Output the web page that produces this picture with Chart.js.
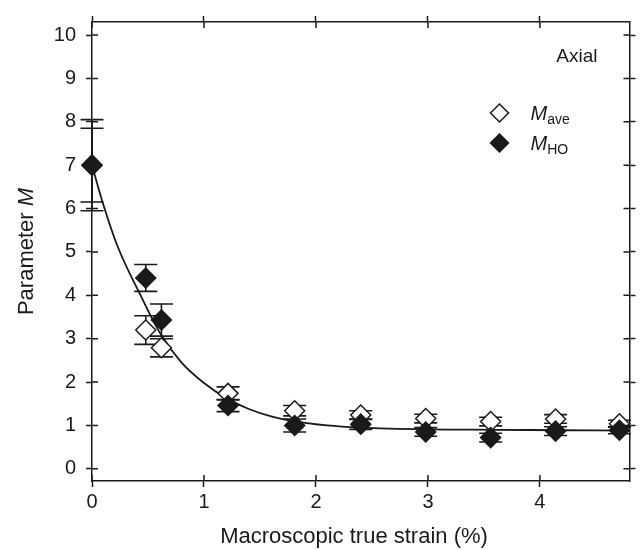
<!DOCTYPE html>
<html>
<head>
<meta charset="utf-8">
<script src="https://cdn.jsdelivr.net/npm/chart.js@4.4.0/dist/chart.umd.min.js"></script>
<style>
    body { margin: 0; background: #ffffff; }
    #wrap { width: 641px; height: 550px; }
</style>
</head>
<body>
<div id="wrap"><canvas id="strain-chart"></canvas></div>
<script>
// measured points (shared strain positions)
const strain = [0, 0.48, 0.62, 1.215, 1.81, 2.40, 2.98, 3.56, 4.14, 4.71];
const mAve = [7.0, 3.20, 2.79, 1.74, 1.34, 1.24, 1.16, 1.09, 1.15, 1.04];
const mAveErr = [0.85, 0.33, 0.21, 0.15, 0.12, 0.10, 0.10, 0.10, 0.10, 0.08];
const mHo = [7.0, 4.40, 3.43, 1.46, 1.00, 1.03, 0.85, 0.72, 0.87, 0.89];
const mHoErr = [1.05, 0.31, 0.37, 0.14, 0.15, 0.12, 0.10, 0.10, 0.10, 0.08];

// fitted curve
const fitStrain = [0, 0.1, 0.23, 0.43, 0.61, 0.8, 1.0, 1.2, 1.4, 1.6, 1.8, 2.1, 2.4, 3.0, 3.6, 4.2, 4.8];
const fitM = [7.0, 6.1, 5.12, 4.02, 3.12, 2.45, 1.98, 1.63, 1.38, 1.21, 1.10, 1.00, 0.95, 0.91, 0.90, 0.89, 0.88];

const xTicks = [0, 1, 2, 3, 4];
const yTicks = [0, 1, 2, 3, 4, 5, 6, 7, 8, 9, 10];

const FONT = '"Liberation Sans", Arial, Helvetica, sans-serif';
const INK = '#1a1a1a';
const TICK = 6;

const toPoints = (xs, ys) => xs.map((x, i) => ({ x, y: ys[i] }));
const fixTicks = (vals) => (scale) => { scale.ticks = vals.map(v => ({ value: v })); };

const errorBars = {
    id: 'errorBars',
    beforeDatasetsDraw(chart) {
        const { ctx } = chart;
        const y = chart.scales.y;
        ctx.save();
        ctx.strokeStyle = INK;
        ctx.lineWidth = 1.6;
        chart.data.datasets.forEach((ds, i) => {
            if (!ds.errors) return;
            const meta = chart.getDatasetMeta(i);
            meta.data.forEach((pt, j) => {
                const v = ds.data[j].y;
                const top = y.getPixelForValue(v + ds.errors[j]);
                const bot = y.getPixelForValue(v - ds.errors[j]);
                ctx.beginPath();
                ctx.moveTo(pt.x, top); ctx.lineTo(pt.x, bot);
                ctx.moveTo(pt.x - 11.5, top); ctx.lineTo(pt.x + 11.5, top);
                ctx.moveTo(pt.x - 11.5, bot); ctx.lineTo(pt.x + 11.5, bot);
                ctx.stroke();
            });
        });
        ctx.restore();
    }
};

const frameDecor = {
    id: 'frameDecor',
    afterDraw(chart) {
        const { ctx, chartArea: a, scales } = chart;
        ctx.save();
        ctx.strokeStyle = INK;
        ctx.lineWidth = 1.5;
        ctx.beginPath();
        // inner halves of the crossing ticks
        scales.x.ticks.forEach(t => {
            const px = scales.x.getPixelForValue(t.value);
            ctx.moveTo(px, a.bottom); ctx.lineTo(px, a.bottom - TICK);
            ctx.moveTo(px, a.top); ctx.lineTo(px, a.top + TICK);
        });
        scales.y.ticks.forEach(t => {
            const py = scales.y.getPixelForValue(t.value);
            ctx.moveTo(a.left, py); ctx.lineTo(a.left + TICK, py);
            ctx.moveTo(a.right, py); ctx.lineTo(a.right - TICK, py);
        });
        ctx.stroke();

        ctx.fillStyle = INK;
        ctx.textBaseline = 'middle';

        // x title
        ctx.font = '22px ' + FONT;
        ctx.textAlign = 'center';
        ctx.fillText('Macroscopic true strain (%)', 354, 537);

        // y title with italic M
        const plain = '22px ' + FONT, ital = 'italic 22px ' + FONT;
        ctx.font = plain;
        const w1 = ctx.measureText('Parameter ').width;
        ctx.font = ital;
        const w2 = ctx.measureText('M').width;
        ctx.translate(27, (a.top + a.bottom) / 2);
        ctx.rotate(-Math.PI / 2);
        ctx.textAlign = 'left';
        ctx.font = plain;
        ctx.fillText('Parameter ', -(w1 + w2) / 2, 0);
        ctx.font = ital;
        ctx.fillText('M', -(w1 + w2) / 2 + w1, 0);
        ctx.restore();

        // panel label and legend
        ctx.save();
        ctx.fillStyle = INK;
        ctx.textBaseline = 'alphabetic';
        ctx.font = '19px ' + FONT;
        ctx.textAlign = 'right';
        ctx.fillText('Axial', a.right - 32, a.top + 40);
        ctx.textAlign = 'left';
        const rows = [
            { ds: chart.data.datasets[1], sub: 'ave', y: a.top + 91 },
            { ds: chart.data.datasets[0], sub: 'HO', y: a.top + 121 }
        ];
        rows.forEach(r => {
            const cx = a.right - 130;
            ctx.fillStyle = r.ds.backgroundColor;
            ctx.strokeStyle = INK;
            ctx.lineWidth = 1.5;
            ctx.beginPath();
            ctx.moveTo(cx, r.y - 9);
            ctx.lineTo(cx + 9, r.y);
            ctx.lineTo(cx, r.y + 9);
            ctx.lineTo(cx - 9, r.y);
            ctx.closePath();
            ctx.fill();
            ctx.stroke();
            ctx.fillStyle = INK;
            ctx.font = 'italic 20px ' + FONT;
            ctx.fillText('M', a.right - 99, r.y + 7);
            const mw = ctx.measureText('M').width;
            ctx.font = '14px ' + FONT;
            ctx.fillText(r.sub, a.right - 99 + mw, r.y + 11);
        });
        ctx.restore();
    }
};

new Chart(document.getElementById('strain-chart'), {
    type: 'scatter',
    data: {
        datasets: [{
            label: 'M_HO',
            data: toPoints(strain, mHo),
            errors: mHoErr,
            pointStyle: 'rectRot',
            pointRadius: 10,
            backgroundColor: INK,
            borderColor: INK,
            borderWidth: 1.5,
            clip: false,
            order: 1
        }, {
            label: 'M_ave',
            data: toPoints(strain, mAve),
            errors: mAveErr,
            pointStyle: 'rectRot',
            pointRadius: 10,
            backgroundColor: '#ffffff',
            borderColor: INK,
            borderWidth: 1.5,
            clip: false,
            order: 2
        }, {
            type: 'line',
            label: 'fit',
            data: toPoints(fitStrain, fitM),
            borderColor: INK,
            borderWidth: 1.8,
            pointRadius: 0,
            cubicInterpolationMode: 'monotone',
            fill: false,
            order: 3
        }]
    },
    options: {
        responsive: true,
        maintainAspectRatio: false,
        animation: false,
        layout: { padding: 0 },
        scales: {
            x: {
                type: 'linear',
                position: 'bottom',
                min: 0,
                max: 4.8,
                afterBuildTicks: fixTicks(xTicks),
                afterFit: s => { s.height = 69; },
                grid: { drawOnChartArea: false, tickLength: TICK, tickWidth: 1.5, tickColor: INK },
                border: { color: INK, width: 1.5 },
                ticks: { color: INK, padding: 3, font: { family: FONT, size: 20 } }
            },
            x2: {
                type: 'linear',
                position: 'top',
                min: 0,
                max: 4.8,
                afterBuildTicks: fixTicks(xTicks),
                afterFit: s => { s.height = 12; },
                grid: { drawOnChartArea: false, tickLength: TICK, tickWidth: 1.5, tickColor: INK },
                border: { color: INK, width: 1.5 },
                ticks: { display: false }
            },
            y: {
                type: 'linear',
                position: 'left',
                min: -0.28,
                max: 10.3,
                afterBuildTicks: fixTicks(yTicks),
                afterFit: s => { s.width = 92; },
                grid: { drawOnChartArea: false, tickLength: TICK, tickWidth: 1.5, tickColor: INK },
                border: { color: INK, width: 1.5 },
                ticks: { color: INK, padding: 10, font: { family: FONT, size: 20 } }
            },
            y2: {
                type: 'linear',
                position: 'right',
                min: -0.28,
                max: 10.3,
                afterBuildTicks: fixTicks(yTicks),
                afterFit: s => { s.width = 11; },
                grid: { drawOnChartArea: false, tickLength: TICK, tickWidth: 1.5, tickColor: INK },
                border: { color: INK, width: 1.5 },
                ticks: { display: false }
            }
        },
        plugins: {
            legend: { display: false },
            tooltip: { enabled: false }
        }
    },
    plugins: [errorBars, frameDecor]
});
</script>
</body>
</html>
